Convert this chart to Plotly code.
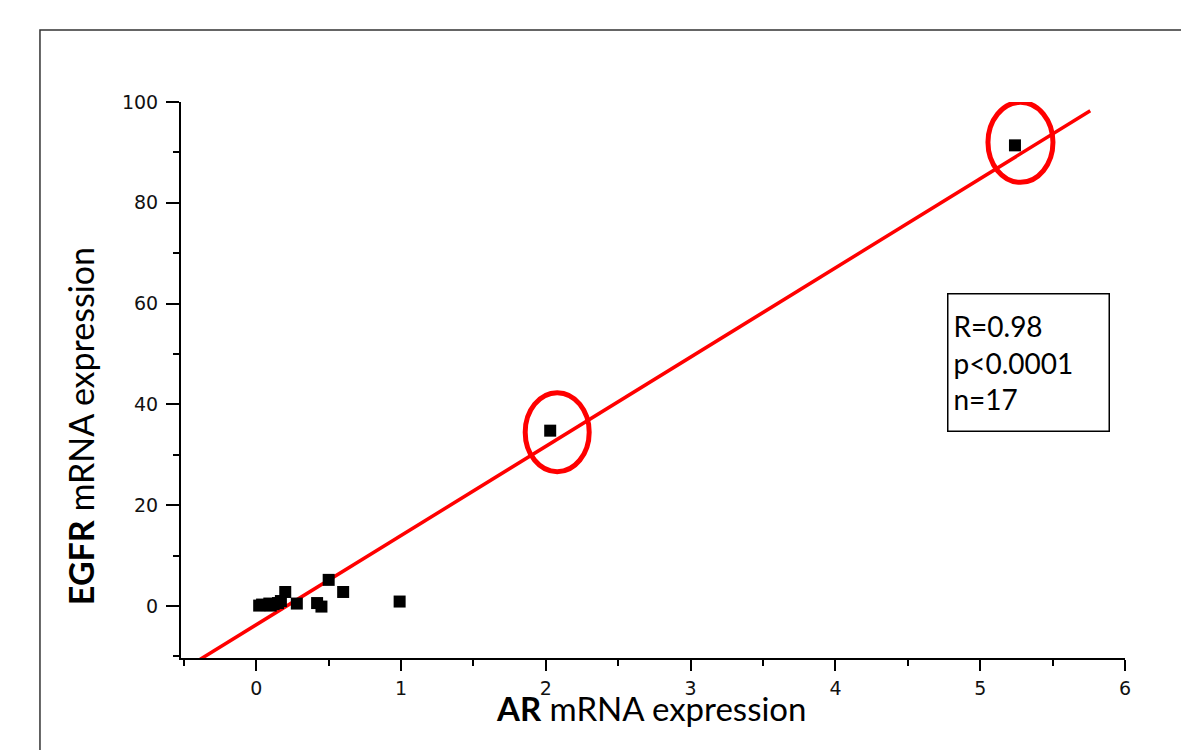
import plotly.graph_objects as go

# AR vs EGFR mRNA expression, one point per sample
ar_expr = [0.02, 0.04, 0.07, 0.09, 0.10, 0.12, 0.15, 0.17, 0.20, 0.28,
           0.42, 0.45, 0.50, 0.60, 0.99, 2.03, 5.24]
egfr_expr = [0.1, 0.3, 0.2, 0.5, 0.1, 0.4, 0.6, 1.0, 2.8, 0.5,
             0.6, -0.1, 5.2, 2.8, 0.9, 34.8, 91.4]

# samples circled as outliers (indices into the arrays above)
highlighted = [15, 16]

# linear fit drawn across the plot
fit_slope = 17.7
fit_intercept = -3.7
fit_x_span = [-0.52, 5.76]

stats_lines = ["R=0.98", "p<0.0001", "n=17"]

x_ticks = [0, 1, 2, 3, 4, 5, 6]
y_ticks = [0, 20, 40, 60, 80, 100]
x_range = [-0.52, 6.0]
y_range = [-10.3, 100]

fig = go.Figure()

fit_y = [fit_slope * x + fit_intercept for x in fit_x_span]
fig.add_trace(go.Scatter(
    x=fit_x_span, y=fit_y, mode="lines",
    line=dict(color="#ff0000", width=3.5),
    hoverinfo="skip", showlegend=False,
))

fig.add_trace(go.Scatter(
    x=ar_expr, y=egfr_expr, mode="markers",
    marker=dict(symbol="square", size=12, color="black", line=dict(width=0)),
    showlegend=False,
))

# red ellipses around the highlighted samples, sized in pixels
ellipse_offsets = [(-25, 39, -41, 38), (-27, 38, -37, 43)]
shapes = []
for idx, (dx0, dx1, dy0, dy1) in zip(highlighted, ellipse_offsets):
    shapes.append(dict(
        type="circle", xref="x", yref="y",
        xsizemode="pixel", ysizemode="pixel",
        xanchor=ar_expr[idx], yanchor=egfr_expr[idx],
        x0=dx0, x1=dx1, y0=dy0, y1=dy1,
        line=dict(color="#ff0000", width=5),
    ))

# outer frame running off the right and bottom edges
shapes.append(dict(
    type="rect", xref="paper", yref="paper",
    x0=-0.1494, x1=1.2, y0=-0.3, y1=1.1295,
    line=dict(color="#333333", width=1.5), layer="below",
))
fig.update_layout(shapes=shapes)

annotations = [
    dict(
        text="<b>AR</b> mRNA expression", xref="paper", yref="paper",
        x=0.4979, y=-0.090, xanchor="center", yanchor="middle",
        showarrow=False, font=dict(family="Lato", size=33, color="black"),
    ),
    dict(
        text="<b>EGFR</b> mRNA expression", xref="paper", yref="paper",
        x=-0.107, y=0.417, xanchor="center", yanchor="middle", textangle=-90,
        showarrow=False, font=dict(family="Lato", size=34, color="black"),
    ),
    dict(
        text="<br>".join(stats_lines), xref="paper", yref="paper",
        x=0.8114, y=0.6565, xanchor="left", yanchor="top",
        align="left", valign="middle", width=150, height=126,
        borderpad=5, bordercolor="black", borderwidth=1.5,
        bgcolor="white", showarrow=False,
        font=dict(family="Lato", size=28, color="black"),
    ),
]
fig.update_layout(annotations=annotations)

fig.update_xaxes(
    range=x_range, tickvals=x_ticks, ticktext=[str(v) for v in x_ticks],
    ticks="outside", ticklen=11, tickwidth=1.5, tickcolor="black",
    minor=dict(dtick=0.5, tick0=0, ticks="outside", ticklen=6, tickwidth=1.5, tickcolor="black"),
    showline=True, linecolor="black", linewidth=2,
    showgrid=False, zeroline=False,
    tickfont=dict(family="DejaVu Sans", size=19, color="#111111"),
    ticklabelstandoff=1,
)
fig.update_yaxes(
    range=y_range, tickvals=y_ticks, ticktext=[str(v) for v in y_ticks],
    ticks="outside", ticklen=13, tickwidth=1.5, tickcolor="black",
    minor=dict(dtick=10, tick0=0, ticks="outside", ticklen=6, tickwidth=1.5, tickcolor="black"),
    showline=True, linecolor="black", linewidth=2,
    showgrid=False, zeroline=False,
    tickfont=dict(family="DejaVu Sans", size=19, color="#111111"),
    ticklabelstandoff=4,
)

fig.update_layout(
    width=1181, height=750,
    margin=dict(l=181, r=56, t=102, b=92),
    paper_bgcolor="white", plot_bgcolor="white",
)

fig.write_html("out.html")
